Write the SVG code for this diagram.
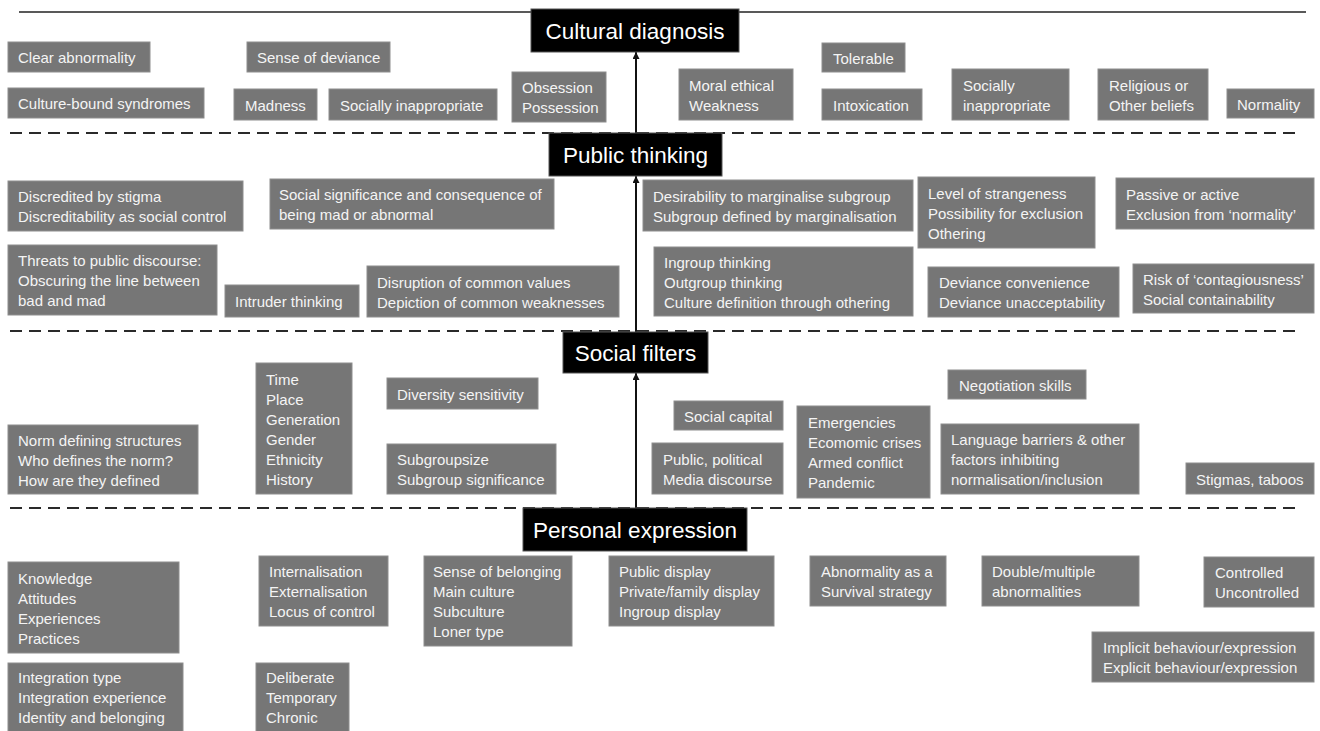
<svg xmlns="http://www.w3.org/2000/svg" width="1320" height="731" viewBox="0 0 1320 731">
  <defs>
    <style>
      .n rect { fill: #767676; stroke: #8e8e8e; stroke-width: 1; }
      .n text { font-family: "Liberation Sans", Arial, sans-serif; font-size: 15px; fill: #f4f4f4; }
      .h rect { fill: #000; stroke: #555; stroke-width: 1; }
      .h text { font-family: "Liberation Sans", Arial, sans-serif; font-size: 22.5px; fill: #fff; text-anchor: middle; }
      .rule { stroke: #222; stroke-width: 1.5; fill: none; }
      .dash { stroke: #2a2a2a; stroke-width: 2; stroke-dasharray: 12 7; fill: none; }
      .conn line { stroke: #111; stroke-width: 2; marker-end: url(#arrow); }
    </style>
    <marker id="arrow" viewBox="0 0 10 10" refX="10" refY="5" markerWidth="8" markerHeight="7" markerUnits="userSpaceOnUse" orient="auto">
      <path d="M0,0 L10,5 L0,10 z" fill="#111"/>
    </marker>
  </defs>
  <rect width="1320" height="731" fill="#fff"/>

  <!-- level separators -->
  <line class="rule" x1="19" y1="12" x2="1306" y2="12"/>
  <line class="dash" x1="10" y1="133" x2="1297" y2="133"/>
  <line class="dash" x1="10" y1="331" x2="1297" y2="331"/>
  <line class="dash" x1="10" y1="508" x2="1297" y2="508"/>

  <!-- connectors between levels -->
  <g id="connectors" class="conn">
    <line x1="636" y1="508" x2="636" y2="373"/>
    <line x1="636" y1="332" x2="636" y2="176"/>
    <line x1="636" y1="133" x2="636" y2="52"/>
  </g>

  <!-- level headers -->
  <g id="cultural-diagnosis" class="h"><rect x="531" y="9" width="208" height="43"/><text x="635" y="38.5">Cultural diagnosis</text></g>
  <g id="public-thinking" class="h"><rect x="549" y="133" width="173" height="43"/><text x="635.5" y="162.5">Public thinking</text></g>
  <g id="social-filters" class="h"><rect x="563" y="332" width="145" height="41"/><text x="635.5" y="360.5">Social filters</text></g>
  <g id="personal-expression" class="h"><rect x="523" y="508" width="224" height="43"/><text x="635" y="537.5">Personal expression</text></g>

  <!-- cultural diagnosis items -->
  <g id="clear-abnormality" class="n"><rect x="8" y="42" width="142" height="30"/><text x="18" y="63">Clear abnormality</text></g>
  <g id="sense-of-deviance" class="n"><rect x="247" y="42" width="143" height="30"/><text x="257" y="63">Sense of deviance</text></g>
  <g id="culture-bound" class="n"><rect x="8" y="88" width="196" height="30"/><text x="18" y="109">Culture-bound syndromes</text></g>
  <g id="madness" class="n"><rect x="234" y="89" width="83" height="31"/><text x="245" y="110.5">Madness</text></g>
  <g id="socially-inappropriate-1" class="n"><rect x="329" y="89" width="168" height="31"/><text x="340" y="110.5">Socially inappropriate</text></g>
  <g id="obsession" class="n"><rect x="512" y="72" width="94" height="50"/><text x="522" y="93">Obsession<tspan x="522" dy="20">Possession</tspan></text></g>
  <g id="moral-ethical" class="n"><rect x="679" y="69" width="114" height="51"/><text x="689" y="90.5">Moral ethical<tspan x="689" dy="20">Weakness</tspan></text></g>
  <g id="tolerable" class="n"><rect x="822" y="43" width="83" height="29"/><text x="833" y="63.5">Tolerable</text></g>
  <g id="intoxication" class="n"><rect x="822" y="89" width="100" height="31"/><text x="833" y="110.5">Intoxication</text></g>
  <g id="socially-inappropriate-2" class="n"><rect x="952" y="69" width="117" height="51"/><text x="963" y="90.5">Socially<tspan x="963" dy="20">inappropriate</tspan></text></g>
  <g id="religious" class="n"><rect x="1098" y="69" width="110" height="51"/><text x="1109" y="90.5">Religious or<tspan x="1109" dy="20">Other beliefs</tspan></text></g>
  <g id="normality" class="n"><rect x="1227" y="89" width="87" height="29"/><text x="1237" y="109.5">Normality</text></g>

  <!-- public thinking items -->
  <g id="discredited" class="n"><rect x="8" y="181" width="235" height="50"/><text x="18" y="202">Discredited by stigma<tspan x="18" dy="20">Discreditability as social control</tspan></text></g>
  <g id="social-significance" class="n"><rect x="270" y="179" width="284" height="50"/><text x="279" y="200">Social significance and consequence of<tspan x="279" dy="20">being mad or abnormal</tspan></text></g>
  <g id="threats" class="n"><rect x="8" y="245" width="209" height="70"/><text x="18" y="266">Threats to public discourse:<tspan x="18" dy="20">Obscuring the line between</tspan><tspan x="18" dy="20">bad and mad</tspan></text></g>
  <g id="intruder" class="n"><rect x="225" y="285" width="134" height="32"/><text x="235" y="307">Intruder thinking</text></g>
  <g id="disruption" class="n"><rect x="367" y="266" width="252" height="51"/><text x="377" y="287.5">Disruption of common values<tspan x="377" dy="20">Depiction of common weaknesses</tspan></text></g>
  <g id="desirability" class="n"><rect x="643" y="180" width="270" height="51"/><text x="653" y="201.5">Desirability to marginalise subgroup<tspan x="653" dy="20">Subgroup defined by marginalisation</tspan></text></g>
  <g id="ingroup" class="n"><rect x="654" y="247" width="259" height="69"/><text x="664" y="267.5">Ingroup thinking<tspan x="664" dy="20">Outgroup thinking</tspan><tspan x="664" dy="20">Culture definition through othering</tspan></text></g>
  <g id="strangeness" class="n"><rect x="918" y="177" width="177" height="71"/><text x="928" y="198.5">Level of strangeness<tspan x="928" dy="20">Possibility for exclusion</tspan><tspan x="928" dy="20">Othering</tspan></text></g>
  <g id="passive-active" class="n"><rect x="1116" y="178" width="198" height="51"/><text x="1126" y="199.5">Passive or active<tspan x="1126" dy="20">Exclusion from ‘normality’</tspan></text></g>
  <g id="deviance" class="n"><rect x="928" y="267" width="191" height="50"/><text x="939" y="288">Deviance convenience<tspan x="939" dy="20">Deviance unacceptability</tspan></text></g>
  <g id="contagiousness" class="n"><rect x="1133" y="264" width="181" height="49"/><text x="1143" y="284.5">Risk of ‘contagiousness’<tspan x="1143" dy="20">Social containability</tspan></text></g>

  <!-- social filters items -->
  <g id="norm-defining" class="n"><rect x="8" y="425" width="190" height="69"/><text x="18" y="445.5">Norm defining structures<tspan x="18" dy="20">Who defines the norm?</tspan><tspan x="18" dy="20">How are they defined</tspan></text></g>
  <g id="time-place" class="n"><rect x="256" y="363" width="96" height="131"/><text x="266" y="384.5">Time<tspan x="266" dy="20">Place</tspan><tspan x="266" dy="20">Generation</tspan><tspan x="266" dy="20">Gender</tspan><tspan x="266" dy="20">Ethnicity</tspan><tspan x="266" dy="20">History</tspan></text></g>
  <g id="diversity" class="n"><rect x="387" y="378" width="151" height="31"/><text x="397" y="399.5">Diversity sensitivity</text></g>
  <g id="subgroupsize" class="n"><rect x="387" y="444" width="169" height="50"/><text x="397" y="465">Subgroupsize<tspan x="397" dy="20">Subgroup significance</tspan></text></g>
  <g id="social-capital" class="n"><rect x="674" y="401" width="109" height="29"/><text x="684" y="421.5">Social capital</text></g>
  <g id="public-political" class="n"><rect x="652" y="443" width="131" height="51"/><text x="663" y="464.5">Public, political<tspan x="663" dy="20">Media discourse</tspan></text></g>
  <g id="emergencies" class="n"><rect x="797" y="406" width="133" height="92"/><text x="808" y="428">Emergencies<tspan x="808" dy="20">Ecomomic crises</tspan><tspan x="808" dy="20">Armed conflict</tspan><tspan x="808" dy="20">Pandemic</tspan></text></g>
  <g id="negotiation" class="n"><rect x="948" y="370" width="138" height="29"/><text x="959" y="390.5">Negotiation skills</text></g>
  <g id="language-barriers" class="n"><rect x="941" y="424" width="198" height="70"/><text x="951" y="445">Language barriers &amp; other<tspan x="951" dy="20">factors inhibiting</tspan><tspan x="951" dy="20">normalisation/inclusion</tspan></text></g>
  <g id="stigmas" class="n"><rect x="1186" y="463" width="128" height="31"/><text x="1196" y="484.5">Stigmas, taboos</text></g>

  <!-- personal expression items -->
  <g id="knowledge" class="n"><rect x="8" y="562" width="171" height="91"/><text x="18" y="583.5">Knowledge<tspan x="18" dy="20">Attitudes</tspan><tspan x="18" dy="20">Experiences</tspan><tspan x="18" dy="20">Practices</tspan></text></g>
  <g id="integration" class="n"><rect x="8" y="663" width="175" height="70"/><text x="18" y="683">Integration type<tspan x="18" dy="20">Integration experience</tspan><tspan x="18" dy="20">Identity and belonging</tspan></text></g>
  <g id="internalisation" class="n"><rect x="259" y="556" width="129" height="70"/><text x="269" y="577">Internalisation<tspan x="269" dy="20">Externalisation</tspan><tspan x="269" dy="20">Locus of control</tspan></text></g>
  <g id="deliberate" class="n"><rect x="256" y="663" width="93" height="70"/><text x="266" y="683">Deliberate<tspan x="266" dy="20">Temporary</tspan><tspan x="266" dy="20">Chronic</tspan></text></g>
  <g id="belonging" class="n"><rect x="424" y="556" width="148" height="90"/><text x="433" y="577">Sense of belonging<tspan x="433" dy="20">Main culture</tspan><tspan x="433" dy="20">Subculture</tspan><tspan x="433" dy="20">Loner type</tspan></text></g>
  <g id="display" class="n"><rect x="609" y="556" width="165" height="70"/><text x="619" y="577">Public display<tspan x="619" dy="20">Private/family display</tspan><tspan x="619" dy="20">Ingroup display</tspan></text></g>
  <g id="survival" class="n"><rect x="810" y="556" width="136" height="50"/><text x="821" y="577">Abnormality as a<tspan x="821" dy="20">Survival strategy</tspan></text></g>
  <g id="multiple" class="n"><rect x="982" y="556" width="157" height="50"/><text x="992" y="577">Double/multiple<tspan x="992" dy="20">abnormalities</tspan></text></g>
  <g id="controlled" class="n"><rect x="1204" y="557" width="110" height="50"/><text x="1215" y="578">Controlled<tspan x="1215" dy="20">Uncontrolled</tspan></text></g>
  <g id="implicit" class="n"><rect x="1092" y="632" width="222" height="50"/><text x="1103" y="653">Implicit behaviour/expression<tspan x="1103" dy="20">Explicit behaviour/expression</tspan></text></g>
</svg>
